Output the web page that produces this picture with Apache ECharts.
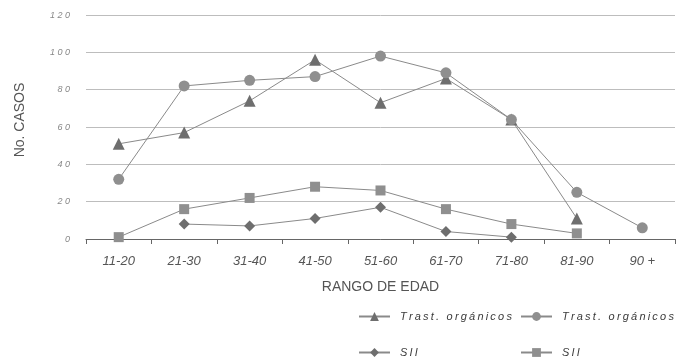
<!DOCTYPE html>
<html>
<head>
<meta charset="utf-8">
<script src="https://cdn.jsdelivr.net/npm/echarts@6/dist/echarts.min.js"></script>
<style>
  html, body { margin: 0; padding: 0; background: #fff; }
  #chart { width: 683px; height: 358px; }
</style>
</head>
<body>
<div id="chart"></div>
<script>
// Age brackets on the category axis
const categories = ['11-20', '21-30', '31-40', '41-50', '51-60', '61-70', '71-80', '81-90', '90 +'];

// Number of cases per age bracket (null = no value for that bracket)
const organicosA = [51, 57, 74, 96, 73, 86, 64, 11, null];
const organicosB = [32, 82, 85, 87, 98, 89, 64, 25, 6];
const siiA = [null, 8, 7, 11, 17, 4, 1, null, null];
const siiB = [1, 16, 22, 28, 26, 16, 8, 3, null];

// Value axis ticks
const yTicks = [0, 20, 40, 60, 80, 100, 120];

// Series labels shown in the legend
const seriesLabels = {
  orgA: 'Trast. orgánicos',
  orgB: 'Trast. orgánicos',
  siiA: 'SII',
  siiB: 'SII'
};

const spaced = (s, sep) => s.split('').join(sep);

const chart = echarts.init(document.getElementById('chart'), null, { renderer: 'canvas' });

const FONT = 'Liberation Sans, Arial, sans-serif';
const lineColor = '#8a8a8a';

function makeSeries(key, data, symbol, size, fill) {
  return {
    name: key,
    type: 'line',
    data: data,
    symbol: symbol,
    symbolSize: size,
    connectNulls: false,
    lineStyle: { color: lineColor, width: 1 },
    itemStyle: { color: fill, borderColor: fill, borderWidth: 0 },
    emphasis: { disabled: true },
    animation: false
  };
}

function makeLegend(key, left, top) {
  return {
    data: [key],
    left: left,
    top: top,
    padding: 0,
    itemWidth: 31,
    itemHeight: 11,
    itemGap: 0,
    selectedMode: false,
    formatter: (name) => spaced(seriesLabels[name], '\u2009'),
    textStyle: {
      fontFamily: FONT,
      fontStyle: 'italic',
      fontSize: 11,
      color: '#3a3a3a',
      padding: [0, 0, 0, 5]
    }
  };
}

chart.setOption({
  backgroundColor: '#fff',
  animation: false,
  grid: { left: 86, right: 8, top: 15, bottom: 119, containLabel: false },
  legend: [
    makeLegend('orgA', 358, 311),
    makeLegend('orgB', 520, 311),
    makeLegend('siiA', 358, 347),
    makeLegend('siiB', 520, 347)
  ],
  graphic: [{
    type: 'text',
    x: 20,
    y: 120,
    rotation: Math.PI / 2,
    style: {
      text: 'No. CASOS',
      fontFamily: FONT,
      fontSize: 14,
      fill: '#555',
      align: 'center',
      verticalAlign: 'middle'
    }
  }],
  xAxis: {
    type: 'category',
    data: categories,
    boundaryGap: true,
    name: 'RANGO DE EDAD',
    nameLocation: 'middle',
    nameGap: 41,
    nameTextStyle: {
      fontFamily: FONT,
      fontSize: 14,
      color: '#555'
    },
    axisLine: { show: true, lineStyle: { color: '#666', width: 1 } },
    axisTick: { show: true, length: 5, inside: false, lineStyle: { color: '#666' } },
    axisLabel: {
      margin: 16,
      fontFamily: FONT,
      fontStyle: 'italic',
      fontSize: 13,
      color: '#555'
    },
    splitLine: { show: false }
  },
  yAxis: {
    type: 'value',
    min: yTicks[0],
    max: yTicks[yTicks.length - 1],
    interval: 20,
    axisLine: { show: false },
    axisTick: { show: false },
    axisLabel: {
      margin: 16,
      fontFamily: FONT,
      fontStyle: 'italic',
      fontSize: 9,
      color: '#888',
      formatter: (v) => spaced(String(v), ' ')
    },
    splitLine: { show: true, lineStyle: { color: '#bdbdbd', width: 1 } }
  },
  series: [
    makeSeries('orgA', organicosA, 'triangle', 12, '#6e6e6e'),
    makeSeries('orgB', organicosB, 'circle', 11, '#8f8f8f'),
    makeSeries('siiA', siiA, 'diamond', 11, '#6e6e6e'),
    makeSeries('siiB', siiB, 'rect', 10, '#8f8f8f')
  ]
});
</script>
</body>
</html>
